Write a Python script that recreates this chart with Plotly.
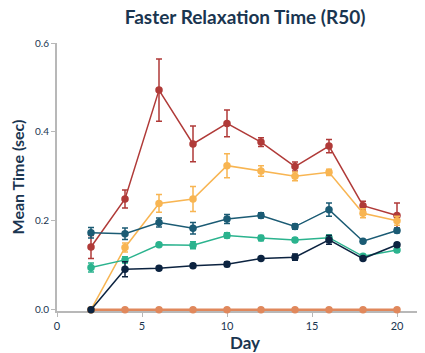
import plotly.graph_objects as go

days = [2, 4, 6, 8, 10, 12, 14, 16, 18, 20]

red = [0.141, 0.249, 0.494, 0.373, 0.419, 0.377, 0.322, 0.368, 0.234, 0.212]
red_err = [0.026, 0.02, 0.07, 0.04, 0.03, 0.01, 0.01, 0.015, 0.01, 0.028]

yellow = [0.0, 0.140, 0.239, 0.249, 0.324, 0.312, 0.300, 0.309, 0.217, 0.200]
yellow_err = [0.0, 0.01, 0.02, 0.028, 0.027, 0.012, 0.01, 0.007, 0.01, 0.01]

teal = [0.173, 0.171, 0.196, 0.183, 0.204, 0.212, 0.187, 0.225, 0.154, 0.178]
teal_err = [0.012, 0.013, 0.01, 0.013, 0.01, 0.006, 0.006, 0.015, 0.0, 0.005]

green = [0.095, 0.112, 0.146, 0.145, 0.167, 0.161, 0.157, 0.162, 0.120, 0.134]
green_err = [0.01, 0.007, 0.004, 0.008, 0.006, 0.006, 0.004, 0.006, 0.004, 0.004]

navy = [0.0, 0.091, 0.093, 0.099, 0.102, 0.115, 0.118, 0.157, 0.115, 0.146]
navy_err = [0.0, 0.017, 0.004, 0.004, 0.005, 0.004, 0.007, 0.01, 0.004, 0.004]

orange = [0.0, 0.0, 0.0, 0.0, 0.0, 0.0, 0.0, 0.0, 0.0, 0.0]

series = [
    (orange, None, "#e0885c", 2.5),
    (red, red_err, "#b03a38", 1.5),
    (yellow, yellow_err, "#f8b552", 1.5),
    (teal, teal_err, "#1b5b74", 1.5),
    (green, green_err, "#2bb38e", 1.5),
    (navy, navy_err, "#0c2340", 1.5),
]

fig = go.Figure()
for vals, errs, color, lw in series:
    kw = {}
    if errs is not None:
        kw["error_y"] = dict(type="data", array=errs, visible=True, color=color,
                             thickness=1.5, width=3)
    fig.add_trace(go.Scatter(
        x=days, y=vals, mode="lines+markers",
        line=dict(color=color, width=lw),
        marker=dict(color=color, size=7.5),
        cliponaxis=False, showlegend=False, **kw))

font = "Lato, 'Open Sans', sans-serif"
navytxt = "#1a3550"
fig.update_layout(
    width=425, height=353,
    margin=dict(l=49, r=0, t=35, b=50),
    paper_bgcolor="white", plot_bgcolor="white",
    title=dict(text="<b>Faster Relaxation Time (R50)</b>", x=0.558, xanchor="center",
               y=1, yanchor="top", pad=dict(t=3),
               font=dict(family=font, size=19, color=navytxt)),
    font=dict(family=font, color=navytxt),
    xaxis=dict(range=[0, 376 / 17], tickvals=[0, 5, 10, 15, 20],
               showline=True, linecolor="#b8b8b8", linewidth=2, layer="below traces",
               ticks="outside", ticklen=4, tickcolor="#b8b8b8", tickwidth=1,
               showgrid=False, zeroline=False, automargin=False,
               tickfont=dict(family=font, size=11, color=navytxt),
               title=dict(text="<b>Day</b>", font=dict(family=font, size=17, color=navytxt),
                          standoff=4)),
    yaxis=dict(range=[-0.003, 0.6], tickvals=[0, 0.2, 0.4, 0.6], tickformat=".1f",
               showline=True, linecolor="#b8b8b8", linewidth=2, layer="below traces",
               ticks="outside", ticklen=4, tickcolor="#b8b8b8", tickwidth=1,
               showgrid=False, zeroline=False, automargin=False,
               tickfont=dict(family=font, size=10, color=navytxt),
               title=dict(text="<b>Mean Time (sec)</b>", font=dict(family=font, size=16, color=navytxt),
                          standoff=6)),
)
fig.update_xaxes(tickprefix="<b>", ticksuffix="</b>")
fig.update_yaxes(tickprefix="<b>", ticksuffix="</b>")

fig.write_html("out.html")
